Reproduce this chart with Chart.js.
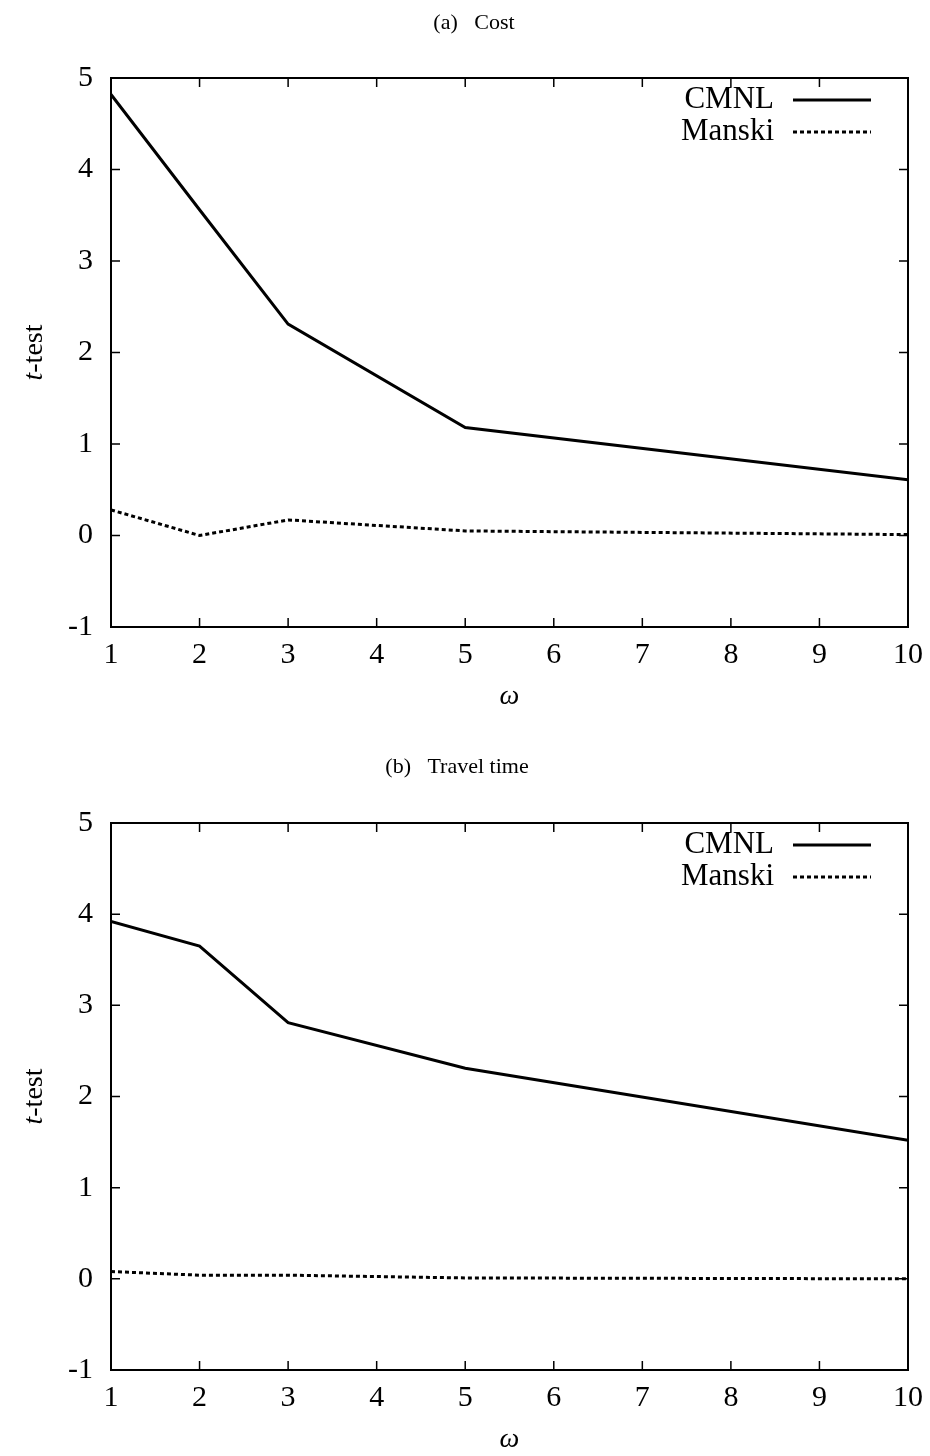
<!DOCTYPE html>
<html>
<head>
<meta charset="utf-8">
<script src="https://cdn.jsdelivr.net/npm/chart.js@4.4.1/dist/chart.umd.min.js"></script>
<style>
body { margin: 0; background: #fff; }
canvas { display: block; }
</style>
</head>
<body>
<canvas id="cost" width="930" height="744"></canvas>
<canvas id="travel" width="930" height="712"></canvas>
<script>
// omega values where both models were estimated
var omega = [1, 2, 3, 5, 10];
var cmnlCost = [4.82, 3.56, 2.31, 1.18, 0.61];
var manskiCost = [0.28, 0.0, 0.17, 0.05, 0.01];
var cmnlTravel = [3.92, 3.65, 2.81, 2.31, 1.52];
var manskiTravel = [0.08, 0.04, 0.04, 0.01, 0.0];
var xTicks = [1, 2, 3, 4, 5, 6, 7, 8, 9, 10];
var yTicks = [-1, 0, 1, 2, 3, 4, 5];
var serif = "'Liberation Serif', 'Times New Roman', serif";

// gnuplot-like box: inward ticks on all four sides, legend, y label
var framePlugin = {
    id: 'frame',
    afterDatasetsDraw: function(chart) {
        var ctx = chart.ctx, a = chart.chartArea;
        var sx = chart.scales.x, sy = chart.scales.y;
        ctx.save();
        ctx.strokeStyle = '#000';
        ctx.lineWidth = 1.5;
        ctx.beginPath();
        sx.ticks.forEach(function(t) {
            var px = sx.getPixelForValue(t.value);
            ctx.moveTo(px, a.bottom); ctx.lineTo(px, a.bottom - 9);
            ctx.moveTo(px, a.top); ctx.lineTo(px, a.top + 9);
        });
        sy.ticks.forEach(function(t) {
            var py = sy.getPixelForValue(t.value);
            ctx.moveTo(a.left, py); ctx.lineTo(a.left + 9, py);
            ctx.moveTo(a.right, py); ctx.lineTo(a.right - 9, py);
        });
        ctx.stroke();
        ctx.lineWidth = 2;
        ctx.strokeRect(a.left, a.top, a.right - a.left, a.bottom - a.top);

        // legend, text on the left of the sample line
        ctx.font = '31px ' + serif;
        ctx.fillStyle = '#000';
        ctx.textAlign = 'right';
        ctx.textBaseline = 'middle';
        chart.data.datasets.forEach(function(ds, i) {
            var ly = a.top + 22 + i * 32;
            ctx.fillText(ds.label, a.right - 134, ly);
            ctx.beginPath();
            ctx.lineWidth = ds.borderWidth;
            ctx.setLineDash(ds.borderDash || []);
            ctx.moveTo(a.right - 115, ly);
            ctx.lineTo(a.right - 37, ly);
            ctx.stroke();
        });
        ctx.setLineDash([]);

        // y axis label with italic t
        ctx.translate(35, (a.top + a.bottom) / 2);
        ctx.rotate(-Math.PI / 2);
        ctx.textAlign = 'left';
        var it = 'italic 28px ' + serif, rm = '28px ' + serif;
        ctx.font = it;
        var w1 = ctx.measureText('t').width;
        ctx.font = rm;
        var w2 = ctx.measureText('-test').width;
        var x0 = -(w1 + w2) / 2;
        ctx.font = it;
        ctx.fillText('t', x0, 0);
        ctx.font = rm;
        ctx.fillText('-test', x0 + w1, 0);
        ctx.restore();
    }
};

function makeChart(id, title, cmnl, manski, padLeft, padBottom, titleBottom) {
    var ctx = document.getElementById(id).getContext('2d');
    return new Chart(ctx, {
        type: 'line',
        data: {
            datasets: [{
                label: 'CMNL',
                data: omega.map(function(w, i) { return {x: w, y: cmnl[i]}; }),
                borderColor: '#000',
                borderWidth: 3,
                pointRadius: 0,
                tension: 0
            }, {
                label: 'Manski',
                data: omega.map(function(w, i) { return {x: w, y: manski[i]}; }),
                borderColor: '#000',
                borderWidth: 3,
                borderDash: [4, 3],
                pointRadius: 0,
                tension: 0
            }]
        },
        options: {
            responsive: false,
            animation: false,
            layout: { padding: { left: padLeft, right: 22, top: 0, bottom: padBottom } },
            plugins: {
                legend: { display: false },
                tooltip: { enabled: false },
                title: {
                    display: true,
                    text: title,
                    color: '#000',
                    font: { family: serif, size: 22, weight: 'normal', lineHeight: 1 },
                    padding: { top: 12, bottom: titleBottom }
                }
            },
            scales: {
                x: {
                    type: 'linear',
                    min: 1,
                    max: 10,
                    afterBuildTicks: function(s) { s.ticks = xTicks.map(function(v) { return {value: v}; }); },
                    afterFit: function(s) { s.height = 84; s.paddingLeft = 0; s.paddingRight = 0; },
                    grid: { display: false, drawTicks: false },
                    border: { display: false },
                    ticks: { color: '#000', padding: 10, font: { family: serif, size: 30 } },
                    title: {
                        display: true,
                        text: 'ω',
                        color: '#000',
                        padding: 0,
                        font: { family: serif, size: 28, style: 'italic', lineHeight: 1 }
                    }
                },
                y: {
                    min: -1,
                    max: 5,
                    afterBuildTicks: function(s) { s.ticks = yTicks.map(function(v) { return {value: v}; }); },
                    afterFit: function(s) { s.width = 111 - padLeft; },
                    grid: { display: false, drawTicks: false },
                    border: { display: false },
                    ticks: { color: '#000', padding: 18, font: { family: serif, size: 30 } }
                }
            }
        },
        plugins: [framePlugin]
    });
}

makeChart('cost', '(a)\u2002 Cost', cmnlCost, manskiCost, 40, 33, 44);
makeChart('travel', '(b)\u2002 Travel time', cmnlTravel, manskiTravel, 6, 2, 45);
</script>
</body>
</html>
